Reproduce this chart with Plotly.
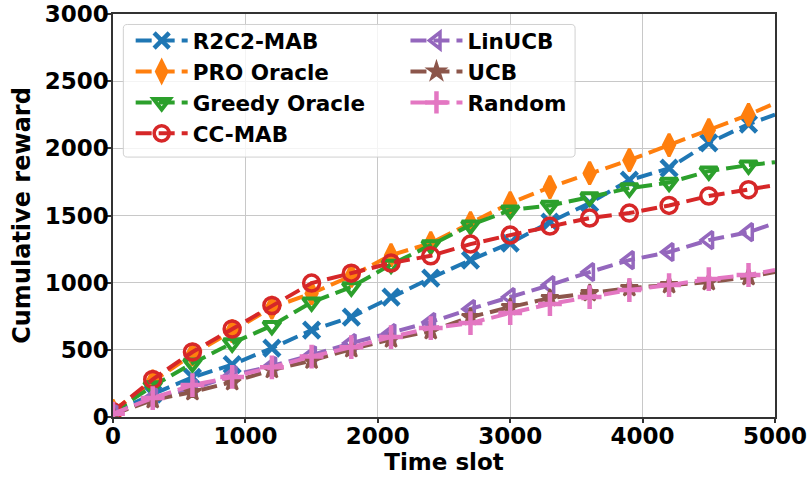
import plotly.graph_objects as go

time_slots = [0, 300, 600, 900, 1200, 1500, 1800, 2100, 2400, 2700, 3000,
              3300, 3600, 3900, 4200, 4500, 4800, 5000]

r2c2_mab = [30, 170, 295, 390, 513, 647, 744, 893, 1034, 1168, 1295, 1451,
            1592, 1763, 1852, 2040, 2180, 2250]
pro_oracle = [45, 265, 465, 640, 815, 920, 1050, 1205, 1294, 1443, 1592, 1711,
              1815, 1912, 2024, 2135, 2250, 2336]
greedy_oracle = [35, 230, 400, 550, 680, 855, 967, 1135, 1280, 1428, 1540, 1575,
                 1637, 1704, 1745, 1830, 1875, 1897]
cc_mab = [40, 280, 484, 655, 830, 997, 1071, 1146, 1200, 1287, 1354, 1421,
          1481, 1518, 1575, 1645, 1692, 1726]
linucb = [20, 145, 210, 310, 380, 460, 550, 625, 707, 804, 893, 982,
          1079, 1168, 1228, 1317, 1376, 1443]
ucb = [20, 126, 186, 260, 350, 420, 505, 578, 640, 744, 818, 885,
       922, 960, 982, 1004, 1042, 1079]
random_policy = [25, 141, 238, 298, 370, 450, 520, 595, 662, 699, 774, 841,
                 893, 945, 982, 1027, 1057, 1094]

x_ticks = [0, 1000, 2000, 3000, 4000, 5000]
y_ticks = [0, 500, 1000, 1500, 2000, 2500, 3000]

# name, values, colour, symbol, size, marker line width, legend
series = [
    ("R2C2-MAB", r2c2_mab, "#1f77b4", "x-thin", 16, 4.5, "legend"),
    ("PRO Oracle", pro_oracle, "#ff7f0e", "diamond-tall", 16, 3, "legend"),
    ("Greedy Oracle", greedy_oracle, "#2ca02c", "triangle-down-open", 15, 4, "legend"),
    ("CC-MAB", cc_mab, "#d62728", "circle-open", 16, 3.5, "legend"),
    ("LinUCB", linucb, "#9467bd", "triangle-left-open", 15, 3.5, "legend2"),
    ("UCB", ucb, "#8c564b", "star", 13, 2.5, "legend2"),
    ("Random", random_policy, "#e377c2", "cross-thin", 17, 4.5, "legend2"),
]

fig = go.Figure()
for name, vals, color, symbol, size, lw, leg in series:
    sizes = [size] * (len(time_slots) - 1) + [0]
    fig.add_trace(go.Scatter(
        x=time_slots, y=vals, name=name, mode="lines+markers",
        line=dict(color=color, width=4, dash="16px,7px"),
        marker=dict(symbol=symbol, size=sizes, color=color, opacity=1,
                    line=dict(color=color, width=lw)),
        legend=leg,
    ))

font_family = "DejaVu Sans"
leg_common = dict(
    orientation="v", xanchor="left", yanchor="top", y=0.985,
    bgcolor="rgba(0,0,0,0)", borderwidth=0, itemwidth=52,
    font=dict(family=font_family, size=21.5, color="black", weight="bold"),
    traceorder="normal", tracegroupgap=0,
)

# rounded legend frame (paper coordinates)
x0, x1, y0, y1 = 0.0156, 0.698, 0.645, 0.974
rx, ry = 0.006, 0.010
frame_path = (
    f"M{x0+rx},{y0} L{x1-rx},{y0} Q{x1},{y0} {x1},{y0+ry} "
    f"L{x1},{y1-ry} Q{x1},{y1} {x1-rx},{y1} L{x0+rx},{y1} "
    f"Q{x0},{y1} {x0},{y1-ry} L{x0},{y0+ry} Q{x0},{y0} {x0+rx},{y0} Z"
)

fig.update_layout(
    width=812, height=477,
    margin=dict(l=113, r=37, t=14, b=60),
    plot_bgcolor="white", paper_bgcolor="white",
    font=dict(family=font_family, size=22, color="black", weight="bold"),
    showlegend=True,
    legend=dict(x=0.0267, **leg_common),
    legend2=dict(x=0.4418, **leg_common),
    shapes=[dict(type="path", path=frame_path, xref="paper", yref="paper",
                 fillcolor="rgba(255,255,255,0.8)",
                 line=dict(color="#d0d0d0", width=1), layer="above")],
    xaxis=dict(
        range=[0, 5000], tickvals=x_ticks, ticks="outside", ticklen=4,
        tickwidth=1.5, tickcolor="#333", showline=True, linecolor="#333",
        linewidth=1.5, mirror=True, showgrid=True, gridcolor="#c8c8c8",
        gridwidth=1.2, zeroline=False, automargin=False,
        ticklabelstandoff=-6,
        tickfont=dict(size=23, weight="bold"),
        title=dict(text="Time slot", font=dict(size=23, weight="bold"), standoff=0),
    ),
    yaxis=dict(
        range=[0, 3000], tickvals=y_ticks, ticks="outside", ticklen=4,
        tickwidth=1.5, tickcolor="#333", showline=True, linecolor="#333",
        linewidth=1.5, mirror=True, showgrid=True, gridcolor="#c8c8c8",
        gridwidth=1.2, zeroline=False, automargin=False,
        ticklabelstandoff=-6,
        tickfont=dict(size=23, weight="bold"),
        title=dict(text="Cumulative reward", font=dict(size=24, weight="bold"), standoff=7),
    ),
)

fig.write_html("out.html")
